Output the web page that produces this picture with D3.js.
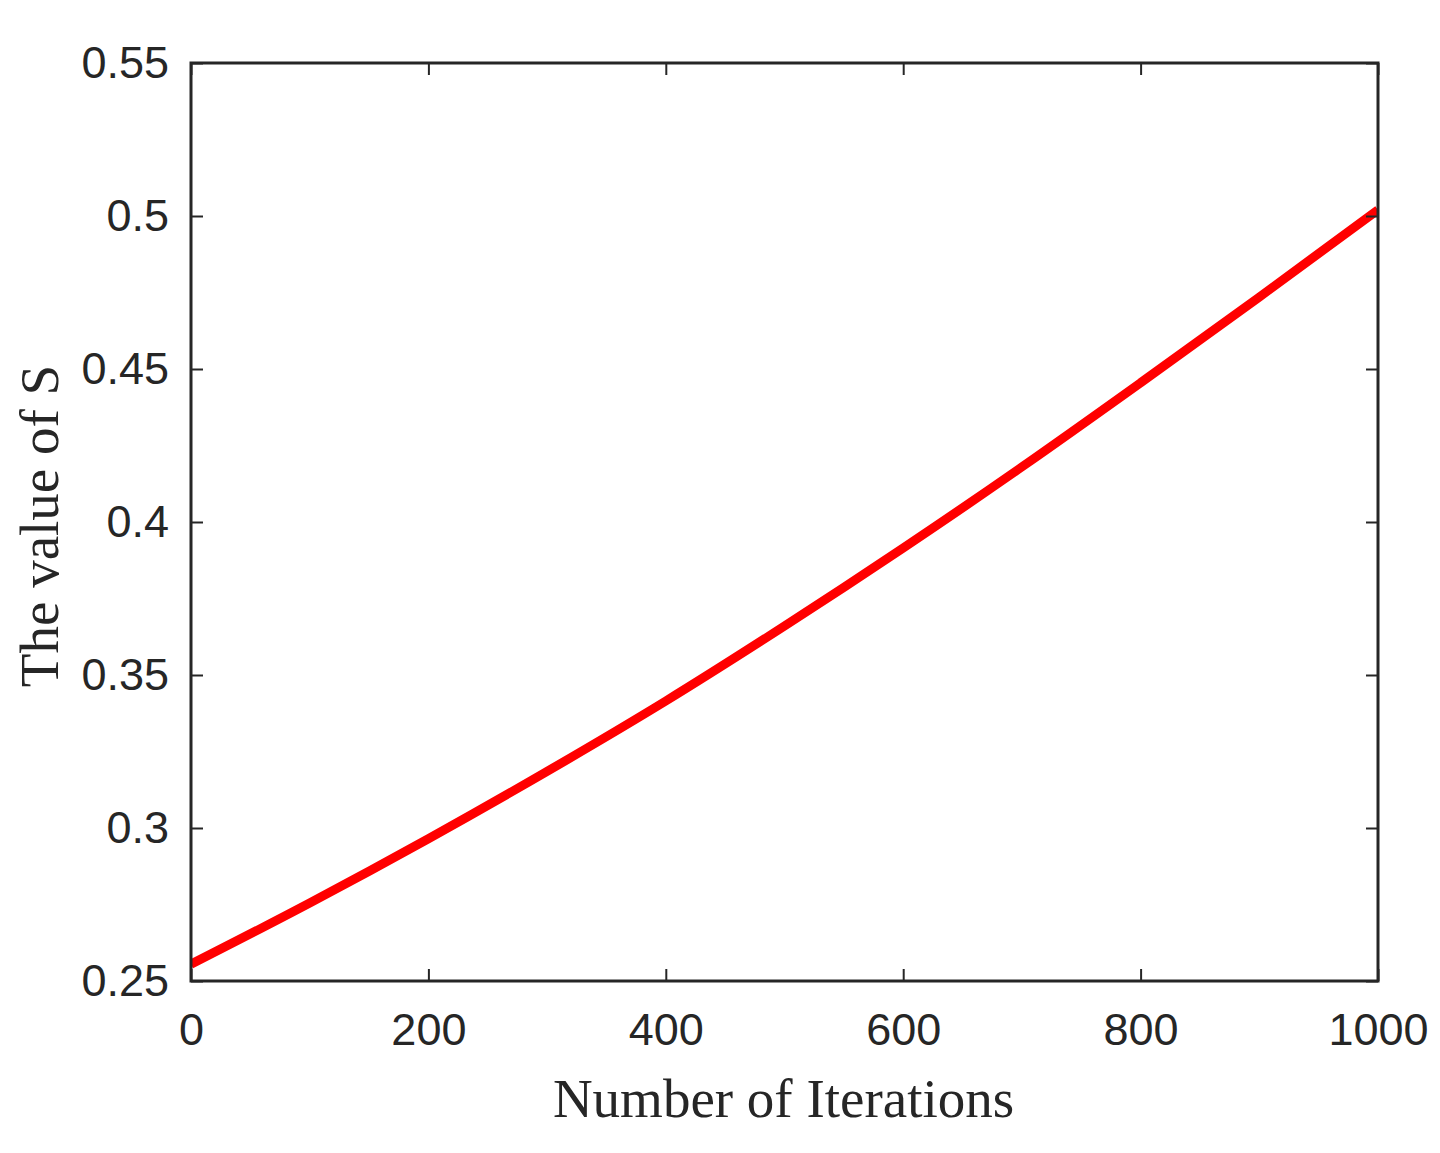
<!DOCTYPE html>
<html>
<head>
<meta charset="utf-8">
<script src="https://cdn.jsdelivr.net/npm/d3@7"></script>
<style>
  body { margin: 0; background: #fff; }
  svg { display: block; }
</style>
</head>
<body>
<svg id="chart" width="1440" height="1153"></svg>
<script>
// values
var iterations = [0, 100, 200, 300, 400, 500, 600, 700, 800, 900, 1000];
var sValues = [0.2555, 0.2755, 0.2965, 0.3185, 0.3415, 0.366, 0.3915, 0.418, 0.4455, 0.4735, 0.502];
var xTicks = [0, 200, 400, 600, 800, 1000];
var yTicks = [0.25, 0.3, 0.35, 0.4, 0.45, 0.5, 0.55];
var xLabel = 'Number of Iterations';
var yLabel = 'The value of S';

var margin = { top: 63, right: 62, bottom: 172, left: 191 },
  width = 1440 - margin.left - margin.right,
  height = 1153 - margin.top - margin.bottom,
  axisColor = '#262626',
  tickLen = 12;

var svg = d3.select('#chart');
var g = svg.append('g')
  .attr('transform', 'translate(' + margin.left + ',' + margin.top + ')');

var x = d3.scaleLinear().domain([0, 1000]).range([0, width]);
var y = d3.scaleLinear().domain([0.25, 0.55]).range([height, 0]);

g.append('clipPath').attr('id', 'clip')
  .append('rect').attr('width', width).attr('height', height);

// line
var line = d3.line()
  .x(function(d, i){ return x(iterations[i]) })
  .y(function(d){ return y(d) })
  .curve(d3.curveMonotoneX);

g.append('path')
  .datum(sValues)
  .attr('clip-path', 'url(#clip)')
  .attr('d', line)
  .attr('fill', 'none')
  .attr('stroke', '#ff0000')
  .attr('stroke-width', 9);

// axes with inward ticks, tick labels only on bottom/left
function styleAxis(sel){
  sel.select('.domain').remove();
  sel.selectAll('.tick line').attr('stroke', axisColor).attr('stroke-width', 2);
  sel.selectAll('.tick text')
    .attr('fill', axisColor)
    .style('font-family', '"Liberation Sans", Arial, sans-serif')
    .style('font-size', '45px');
}

g.append('g')
  .attr('transform', 'translate(0,' + height + ')')
  .call(d3.axisBottom(x).tickValues(xTicks).tickSize(-tickLen).tickPadding(32).tickFormat(d3.format('d')))
  .call(styleAxis);

g.append('g')
  .call(d3.axisLeft(y).tickValues(yTicks).tickSize(-tickLen).tickPadding(22).tickFormat(function(d){ return d3.format('')(+d.toFixed(2)) }))
  .call(styleAxis);

g.append('g')
  .call(d3.axisTop(x).tickValues(xTicks).tickSize(-tickLen).tickFormat(''))
  .call(styleAxis);

g.append('g')
  .attr('transform', 'translate(' + width + ',0)')
  .call(d3.axisRight(y).tickValues(yTicks).tickSize(-tickLen).tickFormat(''))
  .call(styleAxis);

// box
g.append('rect')
  .attr('width', width)
  .attr('height', height)
  .attr('fill', 'none')
  .attr('stroke', axisColor)
  .attr('stroke-width', 3);

// axis titles
g.append('text')
  .attr('x', width / 2 - 1)
  .attr('y', height + 136)
  .attr('text-anchor', 'middle')
  .attr('fill', axisColor)
  .style('font-family', '"Liberation Serif", "Times New Roman", serif')
  .style('font-size', '55px')
  .text(xLabel);

g.append('text')
  .attr('transform', 'translate(' + (-133) + ',' + (height / 2 + 4) + ') rotate(-90)')
  .attr('text-anchor', 'middle')
  .attr('fill', axisColor)
  .style('font-family', '"Liberation Serif", "Times New Roman", serif')
  .style('font-size', '55px')
  .text(yLabel);
</script>
</body>
</html>
